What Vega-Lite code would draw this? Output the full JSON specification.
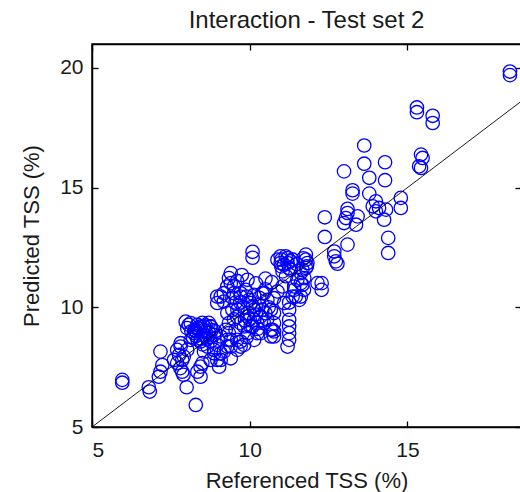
{
  "$schema": "https://vega.github.io/schema/vega-lite/v6.json",
  "width": 429,
  "height": 383,
  "autosize": "none",
  "padding": {"left": 92, "top": 44, "right": 0, "bottom": 65},
  "background": "white",
  "title": {"text": "Interaction - Test set 2", "fontSize": 24, "font": "Liberation Sans", "fontWeight": "normal", "color": "#1a1a1a", "offset": 10, "anchor": "middle"},
  "config": {
    "view": {"stroke": "black", "strokeWidth": 1.5},
    "axis": {"grid": false, "domainColor": "black", "domainWidth": 1.5, "tickColor": "black", "tickWidth": 1.3, "tickSize": -6, "labelFont": "Liberation Sans", "labelFontSize": 21, "labelColor": "#1a1a1a", "titleFont": "Liberation Sans", "titleFontSize": 22, "titleFontWeight": "normal", "titleColor": "#1a1a1a"}
  },
  "datasets": {
    "pts": [
      {"ref":18.25,"pred":19.85},{"ref":18.25,"pred":19.7},{"ref":15.3,"pred":18.35},{"ref":15.3,"pred":18.15},{"ref":15.8,"pred":18.0},{"ref":15.8,"pred":17.7},
      {"ref":13.63,"pred":16.76},{"ref":12.99,"pred":15.68},{"ref":13.63,"pred":16.0},{"ref":14.29,"pred":16.06},{"ref":13.79,"pred":15.41},{"ref":14.29,"pred":15.31},
      {"ref":13.26,"pred":14.89},{"ref":13.26,"pred":14.75},{"ref":13.79,"pred":14.75},{"ref":14.79,"pred":14.57},{"ref":14.79,"pred":14.15},{"ref":14.0,"pred":14.43},
      {"ref":13.9,"pred":14.22},{"ref":14.1,"pred":14.15},{"ref":14.0,"pred":14.01},{"ref":14.32,"pred":14.08},{"ref":14.26,"pred":13.66},{"ref":13.1,"pred":14.11},
      {"ref":13.1,"pred":13.94},{"ref":13.05,"pred":13.73},{"ref":13.42,"pred":13.8},{"ref":13.37,"pred":13.45},{"ref":12.38,"pred":13.76},{"ref":12.99,"pred":13.52},
      {"ref":12.38,"pred":12.94},{"ref":14.39,"pred":12.9},{"ref":14.39,"pred":12.27},{"ref":13.1,"pred":12.62},{"ref":12.68,"pred":12.33},{"ref":12.68,"pred":12.13},
      {"ref":12.73,"pred":11.92},{"ref":12.78,"pred":11.82},{"ref":15.43,"pred":16.38},{"ref":15.48,"pred":16.24},{"ref":15.37,"pred":15.89},{"ref":15.43,"pred":15.82},
      {"ref":11.78,"pred":12.2},{"ref":11.78,"pred":11.99},{"ref":11.81,"pred":11.71},{"ref":11.78,"pred":11.64},{"ref":11.73,"pred":11.22},{"ref":12.28,"pred":11.01},
      {"ref":12.28,"pred":10.73},{"ref":11.62,"pred":10.45},{"ref":10.09,"pred":12.32},{"ref":10.09,"pred":12.07},{"ref":9.4,"pred":11.43},{"ref":9.34,"pred":11.22},
      {"ref":11.0,"pred":11.99},{"ref":11.2,"pred":11.85},{"ref":11.0,"pred":11.71},{"ref":11.25,"pred":11.64},{"ref":11.2,"pred":8.36},{"ref":11.25,"pred":9.9},
      {"ref":11.25,"pred":9.48},{"ref":11.25,"pred":9.2},{"ref":11.25,"pred":8.92},{"ref":11.25,"pred":8.64},{"ref":10.77,"pred":9.76},{"ref":10.77,"pred":9.34},
      {"ref":10.77,"pred":8.99},{"ref":10.77,"pred":8.78},{"ref":11.09,"pred":10.18},{"ref":10.77,"pred":10.38},{"ref":10.45,"pred":10.59},{"ref":9.98,"pred":10.31},
      {"ref":9.71,"pred":10.59},{"ref":10.67,"pred":9.9},{"ref":10.14,"pred":9.9},{"ref":10.45,"pred":9.34},{"ref":10.14,"pred":9.48},{"ref":9.82,"pred":9.2},
      {"ref":10.72,"pred":9.06},{"ref":10.24,"pred":8.92},{"ref":9.4,"pred":8.64},{"ref":9.71,"pred":8.57},{"ref":9.29,"pred":8.36},{"ref":9.29,"pred":10.87},
      {"ref":9.5,"pred":10.87},{"ref":9.18,"pred":10.59},{"ref":11.62,"pred":11.43},{"ref":11.51,"pred":11.15},{"ref":11.67,"pred":10.94},{"ref":11.41,"pred":10.73},
      {"ref":11.72,"pred":10.73},{"ref":11.46,"pred":10.45},{"ref":11.57,"pred":10.31},{"ref":11.04,"pred":10.87},{"ref":10.88,"pred":10.66},{"ref":10.98,"pred":12.13},
      {"ref":11.2,"pred":12.06},{"ref":11.09,"pred":11.78},{"ref":11.04,"pred":11.5},{"ref":11.3,"pred":11.57},{"ref":11.83,"pred":11.85},{"ref":11.67,"pred":11.57},
      {"ref":11.62,"pred":11.01},{"ref":11.41,"pred":10.87},{"ref":11.36,"pred":10.45},{"ref":10.4,"pred":10.59},{"ref":10.56,"pred":10.31},{"ref":9.93,"pred":11.15},
      {"ref":9.87,"pred":10.73},{"ref":10.03,"pred":10.18},{"ref":9.93,"pred":9.62},{"ref":10.09,"pred":9.2},{"ref":9.93,"pred":8.92},{"ref":10.35,"pred":9.62},
      {"ref":10.67,"pred":9.06},{"ref":10.35,"pred":8.92},{"ref":10.67,"pred":8.78},{"ref":9.4,"pred":11.01},{"ref":9.08,"pred":10.45},{"ref":8.97,"pred":10.18},
      {"ref":9.18,"pred":10.24},{"ref":9.5,"pred":10.59},{"ref":9.71,"pred":10.45},{"ref":10.14,"pred":10.52},{"ref":9.29,"pred":9.76},{"ref":9.61,"pred":9.9},
      {"ref":9.93,"pred":9.76},{"ref":10.2,"pred":9.7},{"ref":9.34,"pred":9.34},{"ref":9.71,"pred":9.34},{"ref":10.03,"pred":9.2},{"ref":10.24,"pred":9.34},
      {"ref":8.13,"pred":9.34},{"ref":8.02,"pred":9.13},{"ref":8.34,"pred":9.27},{"ref":8.55,"pred":9.2},{"ref":8.76,"pred":9.2},{"ref":8.23,"pred":8.92},
      {"ref":8.55,"pred":8.85},{"ref":8.87,"pred":8.85},{"ref":8.13,"pred":8.64},{"ref":8.44,"pred":8.57},{"ref":8.76,"pred":8.57},{"ref":9.08,"pred":8.78},
      {"ref":8.97,"pred":8.43},{"ref":7.81,"pred":8.5},{"ref":7.7,"pred":8.22},{"ref":8.02,"pred":8.22},{"ref":7.91,"pred":7.94},{"ref":7.6,"pred":7.8},
      {"ref":8.55,"pred":8.15},{"ref":8.87,"pred":8.08},{"ref":9.18,"pred":8.15},{"ref":8.76,"pred":7.8},{"ref":9.08,"pred":7.8},{"ref":9.4,"pred":7.87},
      {"ref":9.61,"pred":8.22},{"ref":9.82,"pred":8.43},{"ref":10.14,"pred":8.64},{"ref":5.96,"pred":6.97},{"ref":5.96,"pred":6.85},{"ref":6.8,"pred":6.66},
      {"ref":6.83,"pred":6.48},{"ref":7.17,"pred":8.15},{"ref":7.23,"pred":7.59},{"ref":7.17,"pred":7.31},{"ref":7.12,"pred":7.1},{"ref":7.81,"pred":8.36},
      {"ref":7.76,"pred":8.01},{"ref":7.86,"pred":7.8},{"ref":7.7,"pred":7.67},{"ref":7.8,"pred":7.46},{"ref":7.86,"pred":7.31},{"ref":7.9,"pred":7.18},
      {"ref":8.0,"pred":6.66},{"ref":8.29,"pred":5.92},{"ref":8.07,"pred":9.27},{"ref":8.44,"pred":7.1},{"ref":8.5,"pred":7.67},{"ref":8.44,"pred":7.52},
      {"ref":8.34,"pred":7.31},{"ref":8.97,"pred":7.8},{"ref":9.03,"pred":7.52},{"ref":8.66,"pred":8.36},{"ref":8.87,"pred":8.22},{"ref":9.08,"pred":8.08},
      {"ref":9.4,"pred":8.36},{"ref":9.29,"pred":8.64},{"ref":9.34,"pred":8.92},{"ref":9.24,"pred":9.06},{"ref":9.6,"pred":8.64},{"ref":9.71,"pred":8.36},
      {"ref":7.97,"pred":9.4},{"ref":8.34,"pred":9.13},{"ref":8.76,"pred":9.2},{"ref":8.97,"pred":10.45},{"ref":8.3,"pred":9.0},{"ref":8.45,"pred":8.7},
      {"ref":8.6,"pred":9.0},{"ref":8.2,"pred":8.75},{"ref":10.88,"pred":11.99},{"ref":10.98,"pred":11.85},{"ref":11.14,"pred":12.13},{"ref":11.3,"pred":11.92},
      {"ref":12.15,"pred":11.01},{"ref":11.25,"pred":10.2},{"ref":10.6,"pred":10.0},{"ref":9.5,"pred":9.5},
      {"ref":8.4,"pred":9.1},{"ref":8.6,"pred":9.25},{"ref":8.7,"pred":8.95},{"ref":8.3,"pred":8.8},{"ref":8.5,"pred":9.35},{"ref":8.8,"pred":9.05},
      {"ref":8.65,"pred":8.7},{"ref":9.55,"pred":10.2},{"ref":9.8,"pred":10.0},{"ref":10.3,"pred":10.1},{"ref":10.5,"pred":9.75},{"ref":9.9,"pred":10.45},
      {"ref":10.3,"pred":10.4},{"ref":9.45,"pred":9.9},{"ref":10.0,"pred":9.5},{"ref":11.15,"pred":11.3},{"ref":11.5,"pred":11.8},{"ref":11.35,"pred":12.0},
      {"ref":11.7,"pred":12.05},{"ref":10.2,"pred":11.0},{"ref":10.5,"pred":11.2},{"ref":9.75,"pred":11.35},{"ref":9.6,"pred":11.1},
      {"ref":8.25,"pred":9.05},{"ref":8.45,"pred":9.2},{"ref":8.6,"pred":8.8},{"ref":8.35,"pred":8.65},{"ref":8.55,"pred":9.05},{"ref":8.75,"pred":8.75},
      {"ref":8.9,"pred":9.0},{"ref":8.15,"pred":9.0},{"ref":8.5,"pred":8.45},{"ref":8.7,"pred":9.35},{"ref":9.6,"pred":9.6},{"ref":9.85,"pred":9.45},
      {"ref":10.1,"pred":10.05},{"ref":10.4,"pred":9.9},{"ref":9.7,"pred":10.2},{"ref":10.55,"pred":9.5},{"ref":9.45,"pred":10.4},{"ref":10.25,"pred":9.1},
      {"ref":9.55,"pred":9.05},{"ref":9.9,"pred":8.75},{"ref":10.5,"pred":10.75},{"ref":10.7,"pred":11.05}
    ],
    "diag": [{"ref": 5, "pred": 5}, {"ref": 18.6, "pred": 18.6}]
  },
  "layer": [
    {
      "data": {"name": "pts"},
      "mark": {"type": "point", "shape": "circle", "filled": false, "color": "#0000ff", "size": 180, "strokeWidth": 1.3, "opacity": 1},
      "encoding": {
        "x": {"field": "ref", "type": "quantitative", "scale": {"domain": [5, 18.6], "nice": false, "zero": false}, "axis": {"orient": "bottom", "values": [5, 10, 15], "title": "Referenced TSS (%)", "labelPadding": 18, "titlePadding": 10}},
        "y": {"field": "pred", "type": "quantitative", "scale": {"domain": [5, 21], "nice": false, "zero": false}, "axis": {"orient": "left", "values": [5, 10, 15, 20], "title": "Predicted TSS (%)", "labelPadding": 15, "titlePadding": 16}}
      }
    },
    {
      "data": {"name": "diag"},
      "mark": {"type": "line", "color": "black", "strokeWidth": 0.9, "clip": true},
      "encoding": {
        "x": {"field": "ref", "type": "quantitative", "axis": {"orient": "top", "values": [5, 10, 15], "labels": false, "title": null}},
        "y": {"field": "pred", "type": "quantitative", "axis": {"orient": "right", "values": [5, 10, 15, 20], "labels": false, "title": null}}
      }
    }
  ],
  "resolve": {"axis": {"x": "independent", "y": "independent"}}
}
